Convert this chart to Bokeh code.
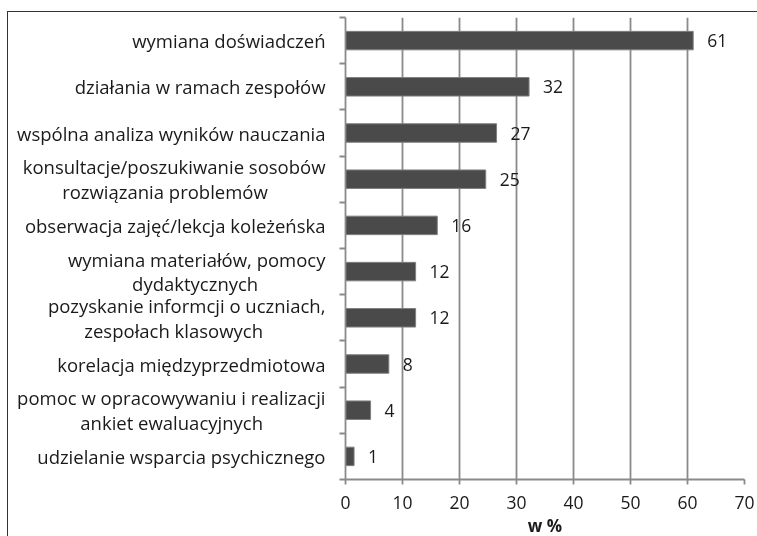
from bokeh.plotting import figure
from bokeh.models import ColumnDataSource, FixedTicker, Range1d
from bokeh.core.properties import value
from bokeh.embed import file_html
from bokeh.resources import INLINE

categories = [
    "wymiana doświadczeń",
    "działania w ramach zespołów",
    "wspólna analiza wyników nauczania",
    "konsultacje/poszukiwanie sosobów\nrozwiązania problemów",
    "obserwacja zajęć/lekcja koleżeńska",
    "wymiana materiałów, pomocy\ndydaktycznych",
    "pozyskanie informcji o uczniach,\nzespołach klasowych",
    "korelacja międzyprzedmiotowa",
    "pomoc w opracowywaniu i realizacji\nankiet ewaluacyjnych",
    "udzielanie wsparcia psychicznego",
]
values = [61.0, 32.2, 26.5, 24.6, 16.1, 12.3, 12.3, 7.6, 4.4, 1.5]
value_labels = ["61", "32", "27", "25", "16", "12", "12", "8", "4", "1"]
x_ticks = [0, 10, 20, 30, 40, 50, 60, 70]

# layout helper: non-breaking spaces that visually centre the second line of wrapped labels
second_line_pad = [0, 0, 0, 12, 0, 14, 13, 0, 13, 0]

n = len(categories)
ys = [n - 0.5 - i for i in range(n)]


def centred(label, pad):
    return label + "\u00a0" * pad if pad else label


tick_texts = [centred(c, k) for c, k in zip(categories, second_line_pad)]

src = ColumnDataSource(dict(y=ys, v=values, lab=value_labels))

FONT = "Open Sans"
TXT = "#1a1a1a"
GRID = "#8a8a8a"

p = figure(frame_width=399, frame_height=462, output_backend="svg", toolbar_location=None,
           x_range=Range1d(0, 70), y_range=Range1d(0, n),
           min_border_left=337, min_border_right=13, min_border_top=5, min_border_bottom=60)
p.styles = {"position": "fixed", "top": "11px", "left": "7px",
            "border-top": "1px solid #333", "border-left": "1px solid #333"}
p.outline_line_color = None
p.background_fill_color = "white"
p.border_fill_color = "white"

p.hbar(y="y", right="v", left=0, height=0.4, source=src,
       fill_color="#4a4a4a", line_color="#7f7f7f", line_width=1)
p.text(x="v", y="y", text="lab", source=src, x_offset=14,
       text_baseline="middle", text_align="left", text_font=value(FONT),
       text_font_size="17.5px", text_color=TXT)

# x axis
p.xaxis.ticker = FixedTicker(ticks=x_ticks)
p.xaxis.axis_line_color = GRID
p.xaxis.axis_line_width = 1.8
p.xaxis.major_tick_line_color = GRID
p.xaxis.major_tick_line_width = 1.8
p.xaxis.major_tick_out = 5
p.xaxis.major_tick_in = 0
p.xaxis.minor_tick_line_color = None
p.xaxis.major_label_standoff = 11
p.xaxis.major_label_text_font = FONT
p.xaxis.major_label_text_font_size = "17.5px"
p.xaxis.major_label_text_color = TXT
p.xaxis.axis_label = "w %"
p.xaxis.axis_label_text_font = FONT
p.xaxis.axis_label_text_font_size = "17px"
p.xaxis.axis_label_text_font_style = "bold"
p.xaxis.axis_label_text_color = TXT
p.xaxis.axis_label_standoff = 2

# y axis: labels at category centres, tick marks at category boundaries
p.yaxis.ticker = FixedTicker(ticks=ys, minor_ticks=list(range(0, n + 1)))
p.yaxis.major_label_overrides = {y: t for y, t in zip(ys, tick_texts)}
p.yaxis.major_tick_line_color = None
p.yaxis.major_tick_out = 0
p.yaxis.major_tick_in = 0
p.yaxis.minor_tick_line_color = GRID
p.yaxis.minor_tick_line_width = 1.8
p.yaxis.minor_tick_out = 6
p.yaxis.minor_tick_in = 0
p.yaxis.axis_line_color = GRID
p.yaxis.axis_line_width = 1.8
p.yaxis.major_label_standoff = 14
p.yaxis.major_label_text_font = FONT
p.yaxis.major_label_text_font_size = "18.5px"
p.yaxis.major_label_text_color = TXT
p.yaxis.major_label_text_line_height = 0.98

p.xgrid.grid_line_color = GRID
p.xgrid.grid_line_width = 1.8
p.ygrid.grid_line_color = None

open("out.html", "w").write(file_html(p, INLINE))
